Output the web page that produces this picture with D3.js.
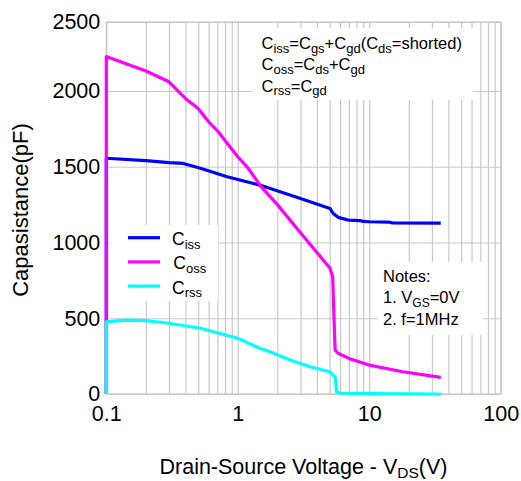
<!DOCTYPE html>
<html>
<head>
<meta charset="utf-8">
<script src="https://cdn.jsdelivr.net/npm/d3@7"></script>
<style>
  body { margin: 0; background: #fff; }
  svg { display: block; font-family: "Liberation Sans", Arial, sans-serif; }
</style>
</head>
<body>
<svg id="chart"></svg>
<script>
// Capacitance vs drain-source voltage
const xTickLabels = [0.1, 1, 10, 100];
const yTickLabels = [0, 500, 1000, 1500, 2000, 2500];

const cissVds = [0.1, 0.1, 0.2, 0.3, 0.385, 0.52, 0.83, 1.47, 2.1, 3, 5.03, 5.3, 5.8, 6.9, 8.5, 9, 10, 14, 15, 35];
const cissPf = [0, 1556, 1540, 1527, 1522, 1490, 1434, 1379, 1335, 1290, 1225, 1193, 1166, 1148, 1145, 1139, 1137, 1135, 1130, 1128];

const cossVds = [0.1, 0.1, 0.2, 0.3, 0.4, 0.5, 0.6, 0.71, 1, 1.2, 1.5, 2, 3, 5.03, 5.27, 5.5, 5.8, 7, 10, 18, 35];
const cossPf = [0, 2250, 2145, 2067, 1951, 1885, 1797, 1731, 1566, 1490, 1370, 1250, 1065, 830, 774, 290, 269, 235, 191, 147, 110];

const crssVds = [0.1, 0.1, 0.14, 0.2, 0.3, 0.52, 1, 1.47, 1.76, 2.5, 3.55, 5.03, 5.3, 5.5, 5.65, 5.97, 10, 35];
const crssPf = [0, 477, 488, 484, 467, 434, 368, 302, 279, 224, 180, 147, 125, 114, 15, 5, 3, 0];

const seriesNames = [["C", "iss"], ["C", "oss"], ["C", "rss"]];
const seriesColors = ["#0000ff", "#ff00ff", "#00ffff"];

const width = 521;
const height = 481;
const gridColor = "#c8c8c8";

const svg = d3.select("#chart").attr("width", width).attr("height", height);

const x = d3.scaleLog().domain([0.1, 100]).range([106.3, 500.7]);
// the picture's top band is a little narrower than the others
const y = d3.scaleLinear().domain([0, 2000, 2500]).range([394, 91, 22]);

const plotW = x.range()[1] - x.range()[0];
const plotH = y.range()[0] - y.range()[2];

// every 1..9 step per decade gets a grid line
let gridVals = [];
[0.1, 1, 10].forEach((d) => {
  for (let k = 1; k < 10; k++) gridVals.push(+(d * k).toPrecision(2));
});
gridVals.push(100);

const xAxis = d3
  .axisBottom(x)
  .tickValues(gridVals)
  .tickFormat((d) => (xTickLabels.includes(d) ? String(d) : ""))
  .tickSize(-plotH)
  .tickPadding(12);

svg
  .append("g")
  .attr("transform", `translate(0,${y.range()[0]})`)
  .call(xAxis)
  .call((g) => g.select(".domain").remove())
  .call((g) => g.selectAll("line").attr("stroke", gridColor).attr("stroke-width", 1.2))
  .call((g) =>
    g.selectAll("text")
      .attr("fill", "#000")
      .style("font-size", "21.5px")
      .style("font-family", "Liberation Sans, Arial, sans-serif")
  );

const yAxis = d3
  .axisLeft(y)
  .tickValues(yTickLabels)
  .tickFormat(d3.format("d"))
  .tickSize(-plotW)
  .tickPadding(6);

svg
  .append("g")
  .attr("transform", `translate(${x.range()[0]},0)`)
  .call(yAxis)
  .call((g) => g.select(".domain").remove())
  .call((g) => g.selectAll("line").attr("stroke", gridColor).attr("stroke-width", 1.2))
  .call((g) =>
    g.selectAll("text")
      .attr("fill", "#000")
      .style("font-size", "21.5px")
      .style("font-family", "Liberation Sans, Arial, sans-serif")
  );

// frame
svg
  .append("rect")
  .attr("x", x.range()[0])
  .attr("y", y.range()[2])
  .attr("width", plotW)
  .attr("height", plotH)
  .attr("fill", "none")
  .attr("stroke", gridColor)
  .attr("stroke-width", 1.3);

// white boxes behind the texts hide the grid
const boxes = [
  [110, 225, 108, 76],
  [252, 28, 221, 72],
  [378, 262, 105, 73],
];
boxes.forEach((b) => {
  svg.append("rect")
    .attr("x", b[0]).attr("y", b[1])
    .attr("width", b[2]).attr("height", b[3])
    .attr("fill", "#fff");
});

// text with subscripts: parts = [[text, isSub], ...]
function richText(parent, px, py, parts, size, subSize) {
  const t = parent.append("text")
    .attr("x", px).attr("y", py)
    .attr("fill", "#000")
    .style("font-size", size + "px");
  let lowered = false;
  parts.forEach((p) => {
    const span = t.append("tspan").text(p[0]);
    if (p[1]) {
      span.style("font-size", subSize + "px");
      if (!lowered) span.attr("dy", 3.5);
      lowered = true;
    } else {
      if (lowered) span.attr("dy", -3.5);
      lowered = false;
    }
  });
  return t;
}

// curves
const line = d3.line().x((d) => x(d[0])).y((d) => y(d[1]));
const seriesData = [
  d3.zip(cissVds, cissPf),
  d3.zip(cossVds, cossPf),
  d3.zip(crssVds, crssPf),
];

seriesData.forEach((data, i) => {
  svg.append("path")
    .datum(data)
    .attr("fill", "none")
    .attr("stroke", seriesColors[i])
    .attr("stroke-width", 3.2)
    .attr("stroke-linejoin", "round")
    .attr("d", line);
});

// legend
seriesNames.forEach((name, i) => {
  const ly = 237.7 + i * 24.2;
  svg.append("line")
    .attr("x1", 128).attr("x2", 160)
    .attr("y1", ly).attr("y2", ly)
    .attr("stroke", seriesColors[i])
    .attr("stroke-width", 3.2);
  richText(svg, 172 + (i === 1 ? 1.3 : 0), ly + 7.5, [[name[0], false], [name[1], true]], 17.5, 13);
});

// definitions block
const defs = [
  [["C", 0], ["iss", 1], ["=C", 0], ["gs", 1], ["+C", 0], ["gd", 1], ["(C", 0], ["ds", 1], ["=shorted)", 0]],
  [["C", 0], ["oss", 1], ["=C", 0], ["ds", 1], ["+C", 0], ["gd", 1]],
  [["C", 0], ["rss", 1], ["=C", 0], ["gd", 1]],
];
defs.forEach((parts, i) => {
  richText(svg, 261.5, 49 + i * 21.3, parts, 16.5, 13);
});

// notes block
const notes = [
  [["Notes:", 0]],
  [["1. V", 0], ["GS", 1], ["=0V", 0]],
  [["2. f=1MHz", 0]],
];
notes.forEach((parts, i) => {
  richText(svg, 383, 282 + i * 21.3, parts, 16.5, 12);
});

// axis titles
richText(svg, 303.5, 474, [["Drain-Source Voltage - V", 0], ["DS", 1], ["(V)", 0]], 21.5, 15.5)
  .attr("text-anchor", "middle");

svg.append("text")
  .attr("transform", `translate(28,210) rotate(-90)`)
  .attr("text-anchor", "middle")
  .attr("fill", "#000")
  .style("font-size", "22px")
  .text("Capasistance(pF)");
</script>
</body>
</html>
